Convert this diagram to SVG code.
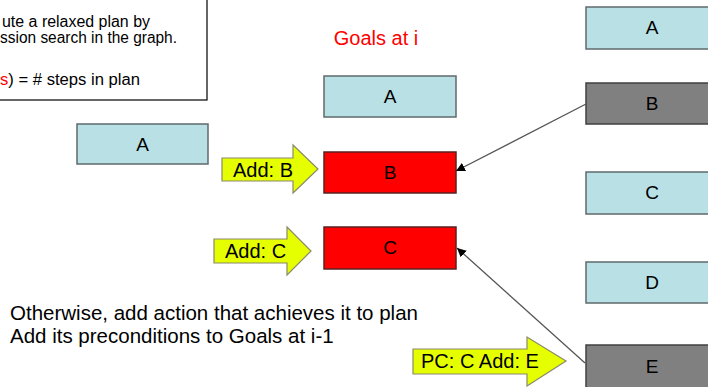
<svg xmlns="http://www.w3.org/2000/svg" width="708" height="387" viewBox="0 0 708 387">
  <style>
    .lbl { font-family: "Liberation Sans", Arial, sans-serif; font-size: 19px; fill: #000; text-anchor: middle; }
    .note { font-family: "Liberation Sans", Tahoma, sans-serif; font-size: 16px; fill: #000; }
    .body { font-family: "Liberation Sans", Arial, sans-serif; font-size: 20.5px; fill: #000; }
    .act { font-family: "Liberation Sans", Arial, sans-serif; font-size: 20px; fill: #000; }
    .fact { fill: #b9e0e5; stroke: #5f6a6c; stroke-width: 1.5; }
    .goal { fill: #ff0000; stroke: #5a2020; stroke-width: 1.5; }
    .used { fill: #808080; stroke: #404040; stroke-width: 1.5; }
    .step { fill: #e6ff00; stroke: #8a8a6a; stroke-width: 1.2; }
    .link { stroke: #555; stroke-width: 1.3; fill: none; marker-end: url(#tip); }
  </style>
  <defs>
    <marker id="tip" viewBox="0 0 10 10" refX="10" refY="5" markerWidth="9" markerHeight="9" markerUnits="userSpaceOnUse" orient="auto">
      <path d="M0,0 L10,5 L0,10 z" fill="#000"/>
    </marker>
  </defs>
  <rect width="708" height="387" fill="#fff"/>

  <!-- note box, cut off at the left edge -->
  <g id="note">
    <rect x="-10" y="-10" width="217" height="110" fill="#fff" stroke="#000" stroke-width="1.2"/>
    <text class="note" x="2" y="27" textLength="148" lengthAdjust="spacingAndGlyphs">ute a relaxed plan by</text>
    <text class="note" x="0" y="43" textLength="177" lengthAdjust="spacingAndGlyphs">ssion search in the graph.</text>
    <text class="note" x="0" y="85" textLength="140" lengthAdjust="spacingAndGlyphs"><tspan fill="#ff0000">s</tspan>) = # steps in plan</text>
  </g>

  <text x="376" y="45" font-family="Liberation Sans, Arial, sans-serif" font-size="20" fill="#ff0000" text-anchor="middle">Goals at i</text>

  <!-- level i-1 -->
  <g id="prevA">
    <rect class="fact" x="77" y="124" width="131" height="40"/>
    <text class="lbl" x="142.5" y="151">A</text>
  </g>

  <!-- goals at level i -->
  <g id="goalA">
    <rect class="fact" x="324" y="76" width="132" height="41"/>
    <text class="lbl" x="390" y="103">A</text>
  </g>
  <g id="goalB">
    <rect class="goal" x="324" y="152" width="132" height="41"/>
    <text class="lbl" x="390" y="179">B</text>
  </g>
  <g id="goalC">
    <rect class="goal" x="324" y="227" width="132" height="42"/>
    <text class="lbl" x="390" y="254">C</text>
  </g>

  <!-- facts in the graph -->
  <g id="factA">
    <rect class="fact" x="586" y="7" width="132" height="42"/>
    <text class="lbl" x="652" y="34">A</text>
  </g>
  <g id="factB">
    <rect class="used" x="586" y="83" width="132" height="41"/>
    <text class="lbl" x="652" y="110">B</text>
  </g>
  <g id="factC">
    <rect class="fact" x="586" y="172" width="132" height="42"/>
    <text class="lbl" x="652" y="199">C</text>
  </g>
  <g id="factD">
    <rect class="fact" x="586" y="262" width="132" height="41"/>
    <text class="lbl" x="652" y="289">D</text>
  </g>
  <g id="factE">
    <rect class="used" x="586" y="345" width="132" height="44"/>
    <text class="lbl" x="652" y="373">E</text>
  </g>

  <!-- actions -->
  <g id="addB">
    <polygon class="step" points="222,158 293,158 293,145 318,169 293,193 293,181 222,181"/>
    <text class="act" x="233" y="177">Add: B</text>
  </g>
  <g id="addC">
    <polygon class="step" points="214,239 287,239 287,227 311,251 287,275 287,263 214,263"/>
    <text class="act" x="225" y="258">Add: C</text>
  </g>
  <g id="addE">
    <polygon class="step" points="413,349 527,349 527,337 566,361 527,386 527,374 413,374"/>
    <text class="act" x="421" y="368">PC: C Add: E</text>
  </g>

  <g id="connectors">
    <line class="link" x1="586" y1="104" x2="456" y2="171"/>
    <line class="link" x1="585" y1="363" x2="457" y2="248"/>
  </g>

  <text class="body" x="10" y="320">Otherwise, add action that achieves it to plan</text>
  <text class="body" x="10" y="343">Add its preconditions to Goals at i-1</text>
</svg>
